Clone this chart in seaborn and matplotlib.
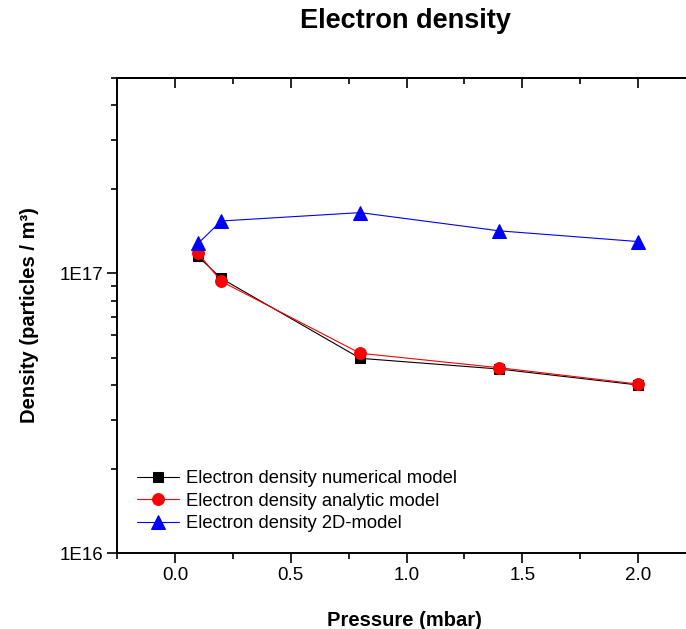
import numpy as np
import pandas as pd
import matplotlib
matplotlib.use("Agg")
import matplotlib.pyplot as plt
import matplotlib.ticker as mticker
import seaborn as sns

# values
pressure = [0.1, 0.2, 0.8, 1.4, 2.0]
numerical = [1.15e17, 9.6e16, 4.97e16, 4.55e16, 3.99e16]
analytic = [1.18e17, 9.37e16, 5.18e16, 4.60e16, 4.02e16]
model_2d = [1.28e17, 1.54e17, 1.65e17, 1.42e17, 1.30e17]

labels = ["Electron density numerical model",
          "Electron density analytic model",
          "Electron density 2D-model"]

sns.set_style("ticks")
plt.rcParams["font.family"] = ["Liberation Sans", "DejaVu Sans"]
for key in ["text.color", "axes.labelcolor", "xtick.color", "ytick.color", "axes.edgecolor"]:
    plt.rcParams[key] = "black"

fig = plt.figure(figsize=(6.86, 6.29), dpi=100)
W, H = 686, 629
# axes run a little past the right edge of the canvas, like the cropped original
left, right, top, bottom = 117, 696, 78, 553
ax = fig.add_axes([left / W, 1 - bottom / H, (right - left) / W, (bottom - top) / H])

styles = [("black", "s", 7), ("red", "o", 8.5), ("blue", "^", 9.5)]
for vals, lab, (col, mk, ms) in zip([numerical, analytic, model_2d], labels, styles):
    df = pd.DataFrame({"Pressure": pressure, "Density": vals})
    sns.lineplot(data=df, x="Pressure", y="Density", ax=ax, color=col, marker=mk,
                 markersize=ms, markeredgecolor=col, linewidth=0.8, label=lab)

ax.set_yscale("log")
ax.set_xlim(-0.25, 2.25)
ax.set_ylim(1e16, 5e17)

ax.xaxis.set_major_locator(mticker.MultipleLocator(0.5))
ax.xaxis.set_minor_locator(mticker.MultipleLocator(0.25))
ax.xaxis.set_major_formatter(mticker.FormatStrFormatter("%.1f"))
ax.yaxis.set_major_locator(mticker.LogLocator(base=10))
ax.yaxis.set_minor_locator(mticker.LogLocator(base=10, subs=np.arange(2, 10)))
ax.yaxis.set_major_formatter(mticker.FuncFormatter(lambda v, p: f"1E{int(round(np.log10(v)))}"))
ax.yaxis.set_minor_formatter(mticker.NullFormatter())

for s in ax.spines.values():
    s.set_linewidth(1.4)
ax.tick_params(which="major", direction="out", length=7.5, width=1.2, labelsize=13.5, pad=2.5)
ax.tick_params(which="minor", direction="out", length=4, width=1.2)

# mirrored ticks on top and right, pointing inward
top_ax = ax.secondary_xaxis("top")
top_ax.xaxis.set_major_locator(mticker.MultipleLocator(0.5))
top_ax.xaxis.set_minor_locator(mticker.MultipleLocator(0.25))
top_ax.tick_params(which="major", direction="in", length=7.5, width=1.2, labeltop=False)
top_ax.tick_params(which="minor", direction="in", length=4, width=1.2)
top_ax.spines["top"].set_linewidth(1.4)

right_ax = ax.secondary_yaxis("right")
right_ax.tick_params(which="major", direction="in", length=7.5, width=1.2, labelright=False)
right_ax.tick_params(which="minor", direction="in", length=4, width=1.2)
right_ax.spines["right"].set_linewidth(1.4)

ax.set_xlabel("Pressure (mbar)", fontsize=14.5, fontweight="bold")
ax.set_ylabel("Density (particles / m³)", fontsize=14.5, fontweight="bold")
ax.xaxis.set_label_coords(0.497, -0.122)
ax.yaxis.set_label_coords(-0.135, 0.5)

fig.text(405 / W, 1 - 21 / H, "Electron density", ha="center", va="center",
         fontsize=19.5, fontweight="bold")

ax.legend(loc="upper left", bbox_to_anchor=(137 / W, 1 - 470 / H),
          bbox_transform=fig.transFigure, frameon=False, fontsize=13.2,
          borderpad=0, borderaxespad=0, handlelength=2.3, handletextpad=0.35,
          labelspacing=0.3)

fig.savefig("out.png", dpi=100)
